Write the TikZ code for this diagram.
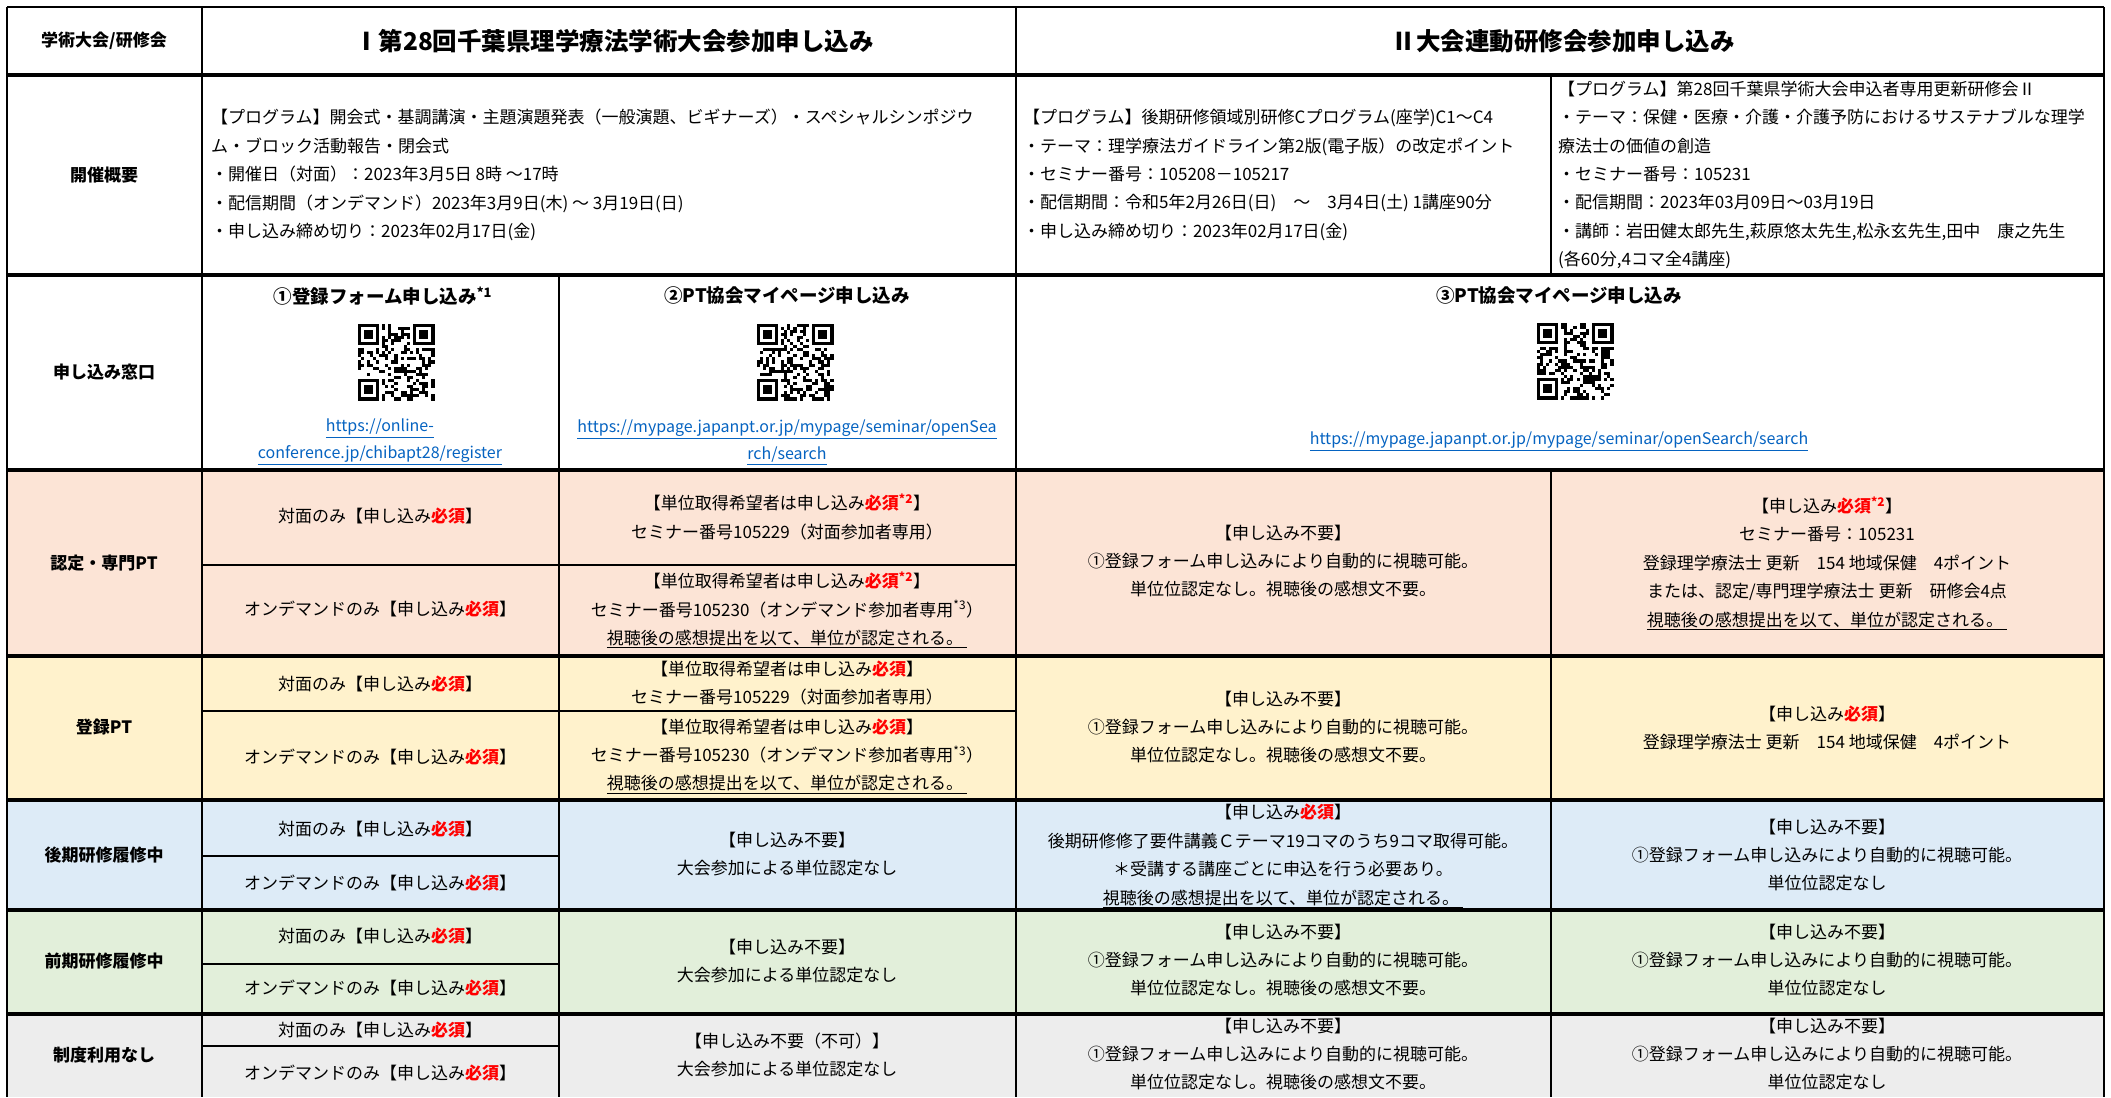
\documentclass[tikz,border=0pt]{standalone}
\usepackage{fontspec}
\setmainfont{Noto Sans CJK JP}
\definecolor{hissured}{HTML}{FF0000}
\definecolor{linkblue}{HTML}{0563C1}
\definecolor{ninteibg}{HTML}{FCE4D6}
\definecolor{tourokubg}{HTML}{FFF2CC}
\definecolor{koukibg}{HTML}{DDEBF7}
\definecolor{zenkibg}{HTML}{E2EFDA}
\definecolor{seidobg}{HTML}{EDEDED}
\newcommand{\hissu}{\textcolor{hissured}{\bfseries 必須}}
\newcommand{\hissuast}{\textcolor{hissured}{\bfseries 必須\textsuperscript{*2}}}
\newcommand{\taimen}{対面のみ【申し込み\hissu{}】}
\newcommand{\ondemand}{オンデマンドのみ【申し込み\hissu{}】}
\newcommand{\kansou}{\underline{視聴後の感想提出を以て、単位が認定される。\hspace{4pt}}}
\newcommand{\jidou}{①登録フォーム申し込みにより自動的に視聴可能。}
\newcommand{\kansoufuyou}{単位位認定なし。視聴後の感想文不要。}
\newcommand{\fuyou}{【申し込み不要】}
\newcommand{\nashi}{大会参加による単位認定なし}
\newcommand{\weblink}[1]{\textcolor{linkblue}{\underline{#1}}}
\newcommand{\fakeqr}[2]{%
	\begin{scope}[shift={(#1)}]
		\pgfmathsetseed{#2}
		\foreach \i in {0,...,24}{
			\foreach \j in {0,...,24}{
				\pgfmathrandominteger{\qv}{0}{99}
				\ifnum\qv<46 \fill (\i*3.08-38.5,\j*3.08-38.5) rectangle ++(3.08,3.08);\fi
			}
		}
		\foreach \a/\b/\wa/\wb in {0/0/0/0,18/0/17/0,0/18/0/17}{
			\fill[white] (\wa*3.08-38.5,\wb*3.08-38.5) rectangle ++(24.64,24.64);
			\fill (\a*3.08-38.5,\b*3.08-38.5) rectangle ++(21.56,21.56);
			\fill[white] (\a*3.08-35.42,\b*3.08-35.42) rectangle ++(15.4,15.4);
			\fill (\a*3.08-32.34,\b*3.08-32.34) rectangle ++(9.24,9.24);
		}
	\end{scope}}
\tikzset{
	gridthin/.style={line width=2pt},
	gridthick/.style={line width=3.2pt},
	cell/.style={inner sep=0pt, align=center, font=\fontsize{17}{28.4}\selectfont},
	lcell/.style={inner sep=0pt, align=left, anchor=west, font=\fontsize{17}{28.4}\selectfont},
	rowhead/.style={inner sep=0pt, font=\fontsize{17}{22}\selectfont\bfseries},
	title/.style={inner sep=0pt, font=\fontsize{24.5}{28}\selectfont\bfseries},
	wintitle/.style={inner sep=0pt, font=\fontsize{18.5}{24}\selectfont\bfseries},
	urlcell/.style={inner sep=0pt, align=center, font=\fontsize{16}{27}\selectfont}
}
\begin{document}
\begin{tikzpicture}[x=1pt,y=-1pt]
	\useasboundingbox (0,0) rectangle (2111,1097);
	\fill[white] (0,0) rectangle (2111,1097);
	\fill[ninteibg] (7,470) rectangle (2104,656);
	\fill[tourokubg] (7,656) rectangle (2104,800);
	\fill[koukibg] (7,800) rectangle (2104,910);
	\fill[zenkibg] (7,910) rectangle (2104,1014);
	\fill[seidobg] (7,1014) rectangle (2104,1097);
	\fakeqr{396,362}{3}
	\fakeqr{795,362}{5}
	\fakeqr{1575,361}{7}
	\draw[gridthin] (7,7) -- (2104,7);
	\draw[gridthin] (7,7) -- (7,1097);
	\draw[gridthin] (2104,7) -- (2104,1097);
	\draw[gridthin] (202,7) -- (202,1097);
	\draw[gridthin] (1016,7) -- (1016,1097);
	\draw[gridthin] (559,275) -- (559,1097);
	\draw[gridthin] (1551,75) -- (1551,275);
	\draw[gridthin] (1551,470) -- (1551,1097);
	\foreach \yy in {75,275,470,656,800,910,1014}
		\draw[gridthick] (7,\yy) -- (2104,\yy);
	\foreach \yy in {565,711}
		\draw[gridthin] (202,\yy) -- (1016,\yy);
	\foreach \yy in {856,964,1046}
		\draw[gridthin] (202,\yy) -- (559,\yy);

	\node[rowhead] (head0) at (104,41) {学術大会/研修会};
	\node[title] (headI) at (614,41) {Ⅰ第28回千葉県理学療法学術大会参加申し込み};
	\node[title] (headII) at (1563,41) {Ⅱ大会連動研修会参加申し込み};

	\node[rowhead] (ov0) at (104,175) {開催概要};
	\node[lcell] (ovI) at (211,175) {【プログラム】開会式・基調講演・主題演題発表（一般演題、ビギナーズ）・スペシャルシンポジウ\\
		ム・ブロック活動報告・閉会式\\
		・開催日（対面）：2023年3月5日 8時 ～17時\\
		・配信期間（オンデマンド）2023年3月9日(木) ～ 3月19日(日)\\
		・申し込み締め切り：2023年02月17日(金)};
	\node[lcell] (ovC) at (1023,175) {【プログラム】後期研修領域別研修Cプログラム(座学)C1～C4\\
		・テーマ：理学療法ガイドライン第2版(電子版）の改定ポイント\\
		・セミナー番号：105208－105217\\
		・配信期間：令和5年2月26日(日)　～　3月4日(土) 1講座90分\\
		・申し込み締め切り：2023年02月17日(金)};
	\node[lcell] (ovII) at (1558,175) {【プログラム】第28回千葉県学術大会申込者専用更新研修会Ⅱ\\
		・テーマ：保健・医療・介護・介護予防におけるサステナブルな理学\\
		療法士の価値の創造\\
		・セミナー番号：105231\\
		・配信期間：2023年03月09日～03月19日\\
		・講師：岩田健太郎先生,萩原悠太先生,松永玄先生,田中　康之先生\\
		(各60分,4コマ全4講座)};

	\node[rowhead] (win0) at (104,372) {申し込み窓口};
	\node[wintitle] (win1) at (383,296) {①登録フォーム申し込み\textsuperscript{*1}};
	\node[wintitle] (win2) at (787,296) {②PT協会マイページ申し込み};
	\node[wintitle] (win3) at (1559,296) {③PT協会マイページ申し込み};
	\node[urlcell] (url1) at (380,442) {\weblink{https://online-}\\\weblink{conference.jp/chibapt28/register}};
	\node[urlcell] (url2) at (787,442) {\weblink{https://mypage.japanpt.or.jp/mypage/seminar/openSea}\\\weblink{rch/search}};
	\node[urlcell] (url3) at (1559,441) {\weblink{https://mypage.japanpt.or.jp/mypage/seminar/openSearch/search}};

	\node[rowhead] (nintei) at (104,563) {認定・専門PT};
	\node[cell] (nintei1a) at (380,516) {\taimen};
	\node[cell] (nintei1b) at (380,609) {\ondemand};
	\node[cell] (nintei2a) at (787,517) {【単位取得希望者は申し込み\hissuast{}】\\セミナー番号105229（対面参加者専用）};
	\node[cell] (nintei2b) at (787,610) {【単位取得希望者は申し込み\hissuast{}】\\セミナー番号105230（オンデマンド参加者専用\textsuperscript{*3}）\\\kansou};
	\node[cell] (nintei3) at (1283,561) {\fuyou\\\jidou\\\kansoufuyou};
	\node[cell] (nintei4) at (1827,563) {【申し込み\hissuast{}】\\セミナー番号：105231\\登録理学療法士 更新　154 地域保健　4ポイント\\または、認定/専門理学療法士 更新　研修会4点\\\kansou};

	\node[rowhead] (touroku) at (104,727) {登録PT};
	\node[cell] (touroku1a) at (380,684) {\taimen};
	\node[cell] (touroku1b) at (380,757) {\ondemand};
	\node[cell] (touroku2a) at (787,683) {【単位取得希望者は申し込み\hissu{}】\\セミナー番号105229（対面参加者専用）};
	\node[cell] (touroku2b) at (787,756) {【単位取得希望者は申し込み\hissu{}】\\セミナー番号105230（オンデマンド参加者専用\textsuperscript{*3}）\\\kansou};
	\node[cell] (touroku3) at (1283,727) {\fuyou\\\jidou\\\kansoufuyou};
	\node[cell] (touroku4) at (1827,728) {【申し込み\hissu{}】\\登録理学療法士 更新　154 地域保健　4ポイント};

	\node[rowhead] (kouki) at (104,855) {後期研修履修中};
	\node[cell] (kouki1a) at (380,829) {\taimen};
	\node[cell] (kouki1b) at (380,883) {\ondemand};
	\node[cell] (kouki2) at (787,854) {\fuyou\\\nashi};
	\node[cell] (kouki3) at (1283,856) {【申し込み\hissu{}】\\後期研修修了要件講義Ｃテーマ19コマのうち9コマ取得可能。\\＊受講する講座ごとに申込を行う必要あり。\\\kansou};
	\node[cell] (kouki4) at (1827,855) {\fuyou\\\jidou\\単位位認定なし};

	\node[rowhead] (zenki) at (104,961) {前期研修履修中};
	\node[cell] (zenki1a) at (380,936) {\taimen};
	\node[cell] (zenki1b) at (380,988) {\ondemand};
	\node[cell] (zenki2) at (787,961) {\fuyou\\\nashi};
	\node[cell] (zenki3) at (1283,960) {\fuyou\\\jidou\\\kansoufuyou};
	\node[cell] (zenki4) at (1827,960) {\fuyou\\\jidou\\単位位認定なし};

	\node[rowhead] (seido) at (104,1055) {制度利用なし};
	\node[cell] (seido1a) at (380,1030) {\taimen};
	\node[cell] (seido1b) at (380,1073) {\ondemand};
	\node[cell] (seido2) at (787,1055) {【申し込み不要（不可）】\\\nashi};
	\node[cell] (seido3) at (1283,1054) {\fuyou\\\jidou\\\kansoufuyou};
	\node[cell] (seido4) at (1827,1054) {\fuyou\\\jidou\\単位位認定なし};
\end{tikzpicture}
\end{document}
